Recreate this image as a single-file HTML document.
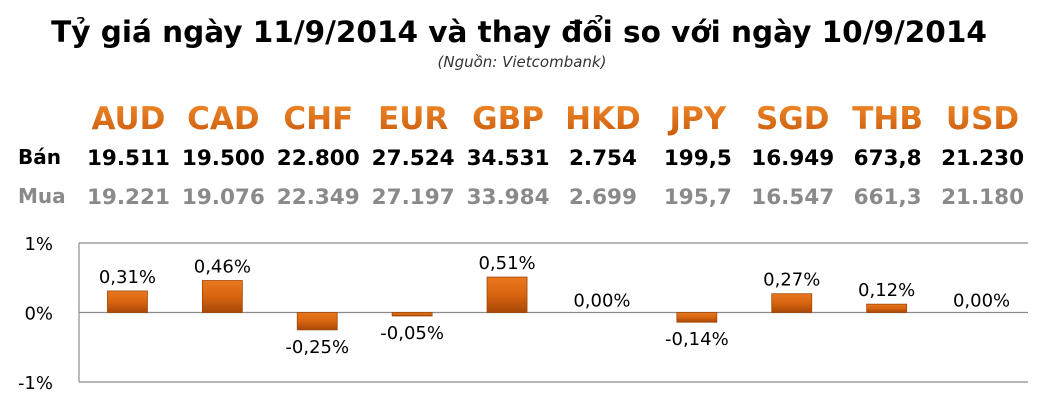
<!DOCTYPE html>
<html><head><meta charset="utf-8"><style>
body{margin:0;width:1042px;height:416px;background:#fff;overflow:hidden;font-family:"DejaVu Sans","Liberation Sans",sans-serif}
svg{display:block}
</style></head><body>
<svg width="1042" height="416">
<defs>
<linearGradient id="bg" x1="0" y1="0" x2="0" y2="1"><stop offset="0" stop-color="#e8781e"/><stop offset="0.5" stop-color="#d86410"/><stop offset="1" stop-color="#a84808"/></linearGradient>
<linearGradient id="hg" x1="0" y1="0" x2="0" y2="1"><stop offset="0" stop-color="#f08a2a"/><stop offset="1" stop-color="#c95a0c"/></linearGradient>
</defs>
<text x="519" y="42" text-anchor="middle" font-size="29.5" font-weight="bold" fill="#000">Tỷ giá ngày 11/9/2014 và thay đổi so với ngày 10/9/2014</text>
<text x="522" y="67" text-anchor="middle" font-size="15" font-style="italic" fill="#333">(Nguồn: Vietcombank)</text>
<text x="18" y="164" font-size="20" font-weight="bold" fill="#000">Bán</text>
<text x="18" y="203" font-size="20" font-weight="bold" fill="#8a8a8a">Mua</text>
<g id="table"></g>
<g id="chart"></g>
</svg>
<script>
const currencies=["AUD","CAD","CHF","EUR","GBP","HKD","JPY","SGD","THB","USD"];
const sellRates=["19.511","19.500","22.800","27.524","34.531","2.754","199,5","16.949","673,8","21.230"];
const buyRates=["19.221","19.076","22.349","27.197","33.984","2.699","195,7","16.547","661,3","21.180"];
const changes=[0.31,0.46,-0.25,-0.05,0.51,0.00,-0.14,0.27,0.12,0.00];
const changeLabels=["0,31%","0,46%","-0,25%","-0,05%","0,51%","0,00%","-0,14%","0,27%","0,12%","0,00%"];
const tickValues=[1,0,-1];
const tickLabels=["1%","0%","-1%"];

const NS="http://www.w3.org/2000/svg";
const L=79,R=1028,T=243,B=382,vmax=1,vmin=-1;
const band=(R-L)/currencies.length;
const xc=i=>L+band*(i+0.5)+1;
const y=v=>T+(vmax-v)/(vmax-vmin)*(B-T);
function mk(tag,attrs,parent,text){const e=document.createElementNS(NS,tag);for(const k in attrs)e.setAttribute(k,attrs[k]);if(text!==undefined)e.textContent=text;parent.appendChild(e);return e;}
const tbl=document.getElementById('table'),ch=document.getElementById('chart');

currencies.forEach((c,i)=>{
  const h=mk('text',{x:xc(i)+1,y:129,'text-anchor':'middle','font-size':31,'font-weight':'bold',fill:'url(#hg)'},tbl,c);
  
  
  const s=mk('text',{x:xc(i)+1,y:165,'text-anchor':'middle','font-size':21.5,'font-weight':'bold',fill:'#000'},tbl,sellRates[i]);
  
  
  const b=mk('text',{x:xc(i)+1,y:204,'text-anchor':'middle','font-size':21.5,'font-weight':'bold',fill:'#8a8a8a'},tbl,buyRates[i]);
  
  
});

tickValues.forEach((v,i)=>{
  const g=mk('line',{x1:L,x2:R,y1:y(v),y2:y(v),stroke:'#8c8c8c','stroke-width':1.2},ch);
  
  
  const t=mk('text',{x:53,y:y(v)+7,'text-anchor':'end','font-size':18,fill:'#000'},ch,tickLabels[i]);
  
  
});
const ax=mk('line',{x1:L,x2:L,y1:T,y2:B,stroke:'#8c8c8c','stroke-width':1.2},ch);



changes.forEach((v,i)=>{
  const x0=xc(i)-20,y0=Math.min(y(v),y(0)),h=Math.abs(y(v)-y(0));
  if(h>0){
    const r=mk('rect',{x:x0,y:y0,width:40,height:h,fill:'url(#bg)',stroke:'#a04608','stroke-width':0.8},ch);
    
    
  }
  const ly=v>0?y(v)-8:(v<0?y(v)+23:y(0)-6);
  const t=mk('text',{x:xc(i),y:ly,'text-anchor':'middle','font-size':18,fill:'#000'},ch,changeLabels[i]);
  
  
});
</script>
</body></html>
